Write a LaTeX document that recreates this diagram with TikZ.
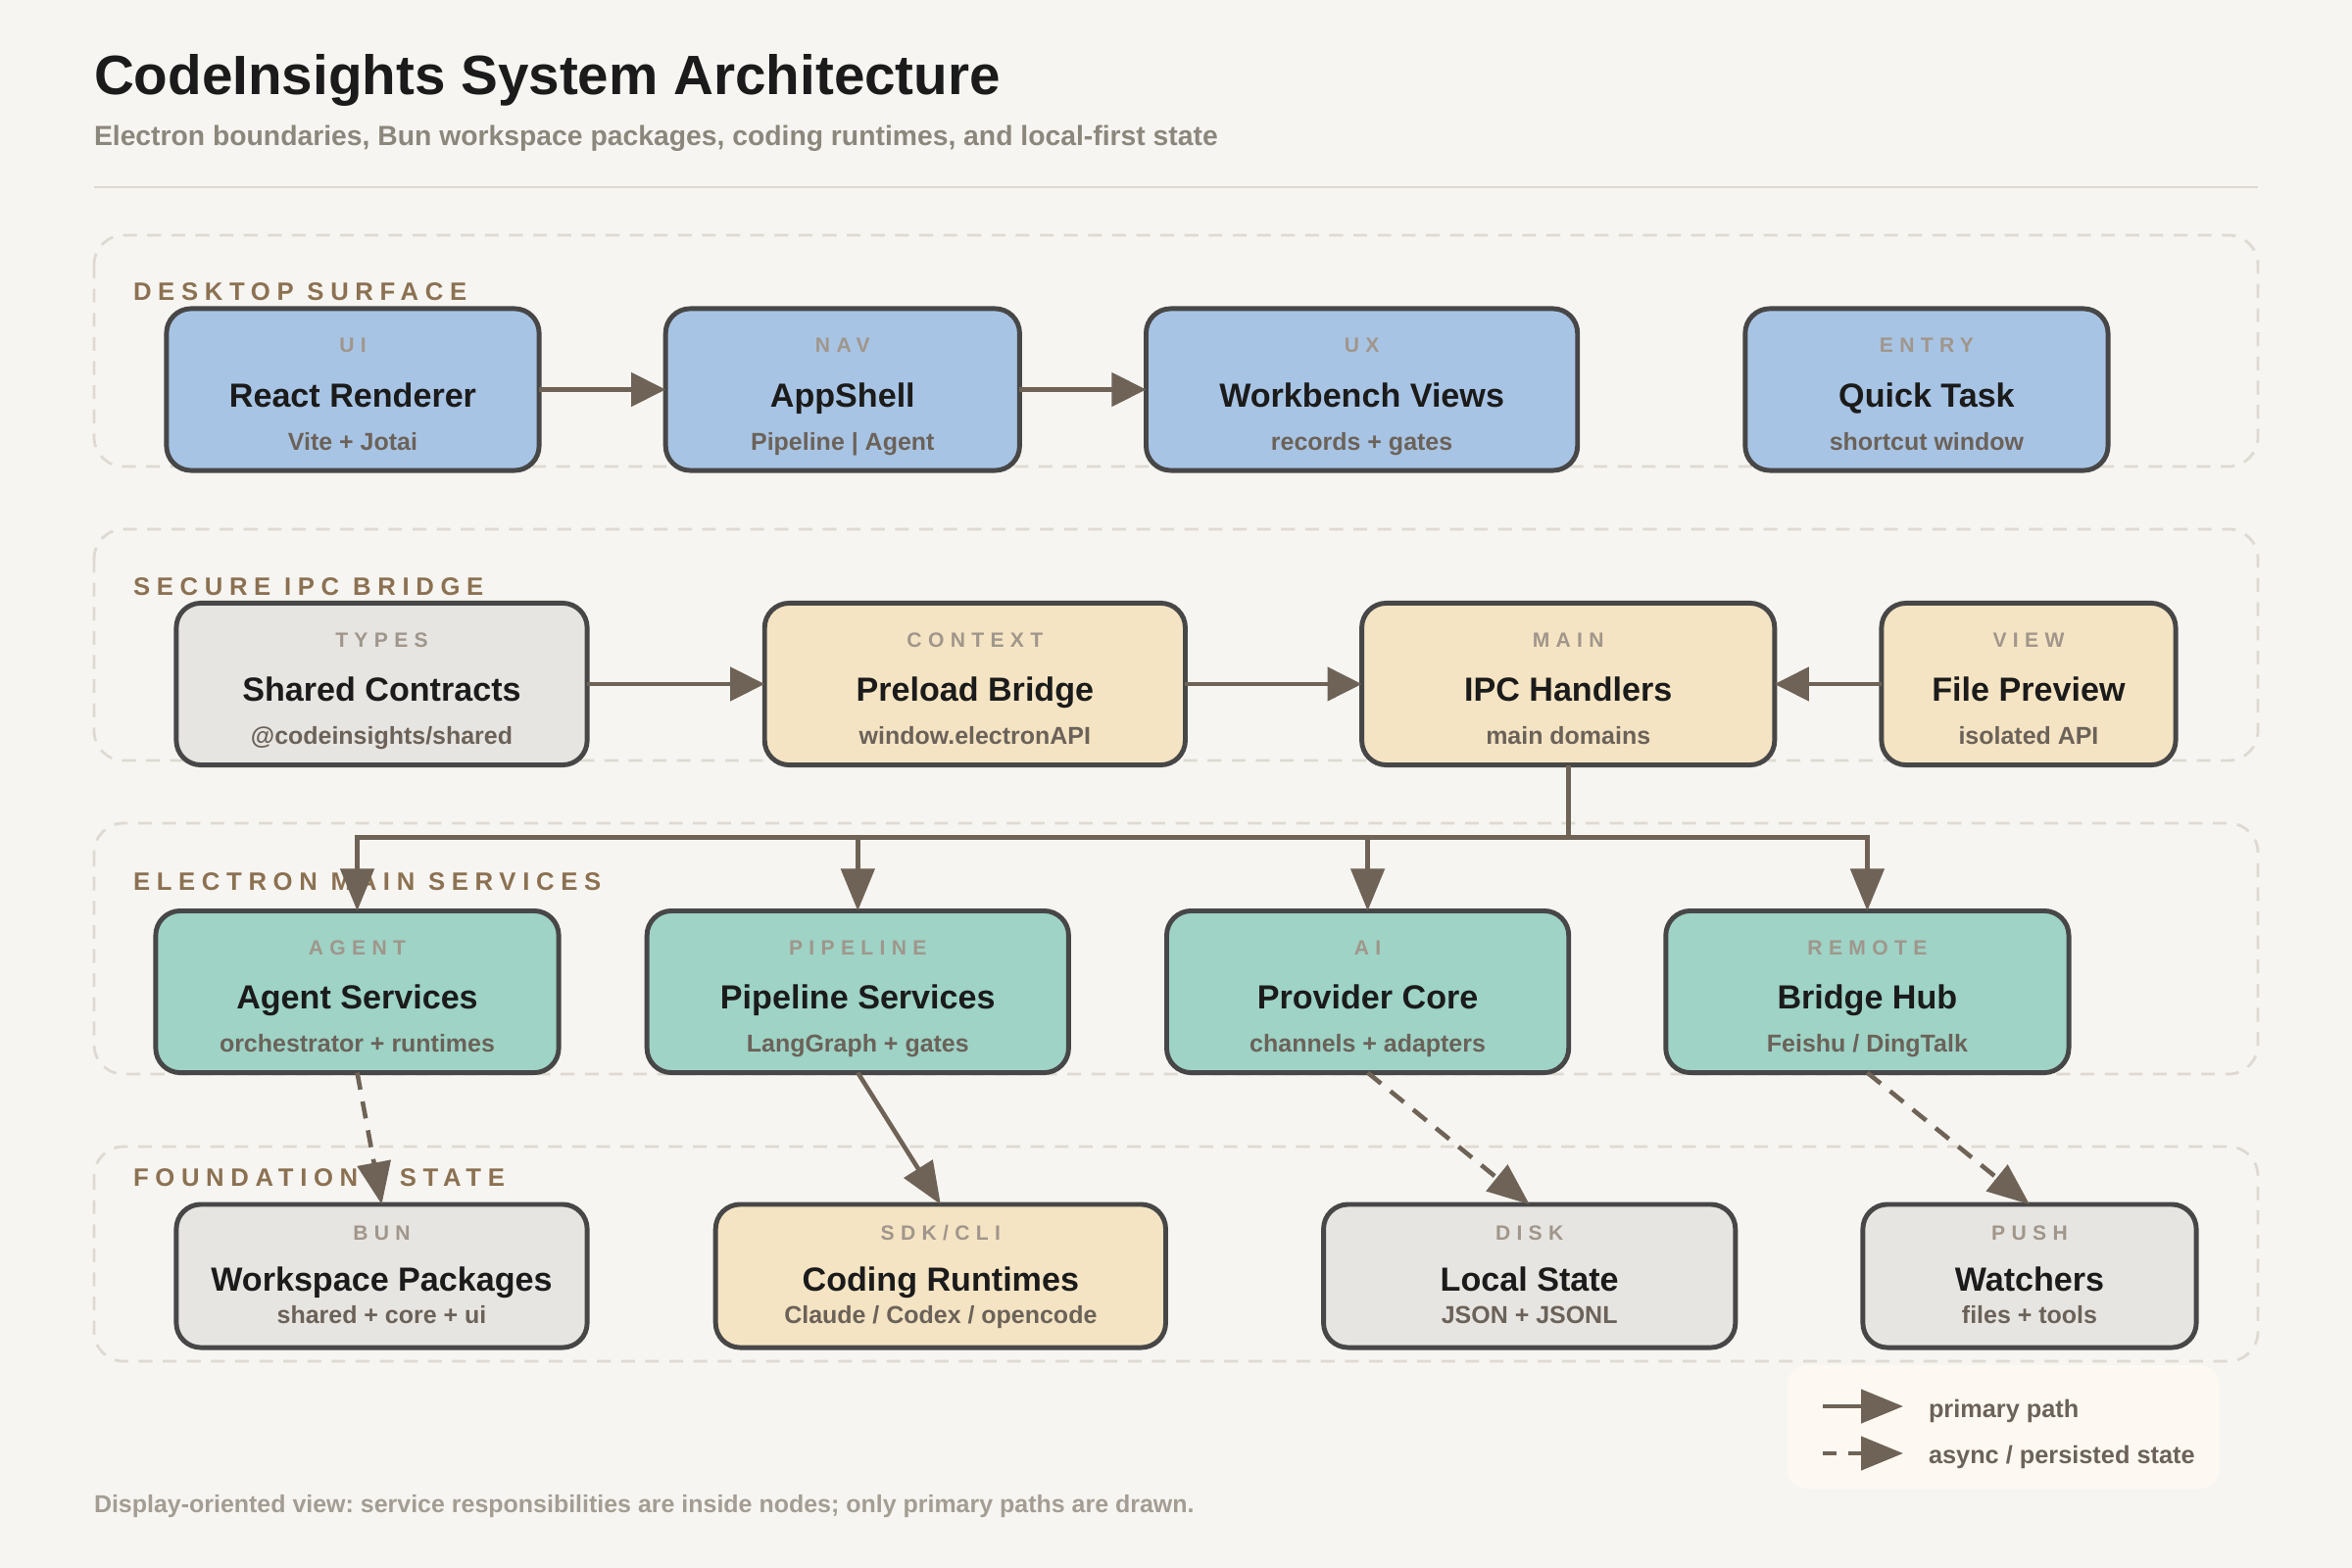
\documentclass[tikz,border=0pt]{standalone}
\usepackage{fontspec}
\setmainfont{Liberation Sans}
\usepackage{xcolor}
\definecolor{pagecol}{HTML}{F7F5F1}
\definecolor{rulecol}{HTML}{DDD9D1}
\definecolor{groupcol}{HTML}{DEDAD2}
\definecolor{grouptext}{HTML}{8B7152}
\definecolor{edgecol}{HTML}{474747}
\definecolor{linkcol}{HTML}{6E6356}
\definecolor{bluecol}{HTML}{A8C4E4}
\definecolor{creamcol}{HTML}{F5E4C3}
\definecolor{graycol}{HTML}{E7E5E1}
\definecolor{tealcol}{HTML}{9ED3C6}
\definecolor{tagcol}{HTML}{A0968B}
\definecolor{subcol}{HTML}{6B6259}
\definecolor{titlecol}{HTML}{1B1B1B}
\definecolor{mutedcol}{HTML}{8C877D}
\definecolor{footcol}{HTML}{A39D93}
\definecolor{legendcol}{HTML}{FDF9F2}
\usepackage{tikz}
\usetikzlibrary{arrows.meta, positioning}
\frenchspacing

\begin{document}
\begin{tikzpicture}[
    x=0.01cm, y=-0.01cm,
    every node/.style={inner sep=0pt, outer sep=0pt},
    card/.style={rectangle, rounded corners=0.25cm, draw=edgecol, line width=1.4pt, minimum height=1.65cm},
    bluefill/.style={fill=bluecol},
    creamfill/.style={fill=creamcol},
    grayfill/.style={fill=graycol},
    tealfill/.style={fill=tealcol},
    tagtext/.style={anchor=base, text=tagcol, font=\bfseries\fontsize{6}{7}\selectfont\addfontfeature{LetterSpace=30}},
    ttltext/.style={anchor=base, text=titlecol, font=\bfseries\fontsize{9.7}{11}\selectfont},
    subtext/.style={anchor=base, text=subcol, font=\bfseries\fontsize{7.1}{8}\selectfont},
    tag/.style={label={[tagtext, yshift=-0.45cm]north:#1}},
    ttl/.style={label={[ttltext, yshift=-1cm]north:#1}},
    sub/.style={label={[subtext, yshift=-1.44cm]north:#1}},
    group/.style={draw=groupcol, line width=0.8pt, dash pattern=on 4pt off 3pt, rounded corners=0.3cm},
    grouplabel/.style={anchor=base west, text=grouptext, font=\bfseries\fontsize{7.3}{8}\selectfont\addfontfeature{LetterSpace=26}},
    link/.style={draw=linkcol, line width=1.3pt},
    arrow/.style={link, -{Triangle[length=4.3mm, width=3.4mm]}},
    flat/.style={link, -{Triangle[length=3.5mm, width=3.4mm]}},
    async/.style={arrow, dash pattern=on 5pt off 3.5pt},
    legendtext/.style={anchor=base west, text=subcol, font=\bfseries\fontsize{7.2}{8}\selectfont}
]
\fill[pagecol] (0,0) rectangle (2400,1600);
\useasboundingbox (0,0) rectangle (2400,1600);

% Header
\node[anchor=base west, text=titlecol, font=\bfseries\fontsize{16.1}{19}\selectfont] (title) at (96,97) {CodeInsights System Architecture};
\node[anchor=base west, text=mutedcol, font=\bfseries\fontsize{8.05}{9}\selectfont] (subtitle) at (96,149) {Electron boundaries, Bun workspace packages, coding runtimes, and local-first state};
\draw[rulecol, line width=0.8pt] (96,191) -- (2304,191);

% Groups
\draw[group] (96,240) rectangle (2304,476);
\draw[group] (96,540) rectangle (2304,776);
\draw[group] (96,840) rectangle (2304,1096);
\draw[group] (96,1170) rectangle (2304,1389);
\node[grouplabel] (gdesktop) at (136,307) {DESKTOP SURFACE};
\node[grouplabel] (gipc) at (136,607) {SECURE IPC BRIDGE};
\node[grouplabel] (gmain) at (136,908) {ELECTRON MAIN SERVICES};
\node[grouplabel] (gfound) at (136,1210) {FOUNDATION + STATE};

% Nodes
\node[card, bluefill, minimum width=3.8cm, tag=UI, ttl=React Renderer, sub=Vite + Jotai] (react) at (360,397.5) {};
\node[card, bluefill, minimum width=3.61cm, right=1.29cm of react, tag=NAV, ttl=AppShell, sub=Pipeline | Agent] (appshell) {};
\node[card, bluefill, minimum width=4.4cm, right=1.29cm of appshell, tag=UX, ttl=Workbench Views, sub=records + gates] (workbench) {};
\node[card, bluefill, minimum width=3.7cm, right=1.71cm of workbench, tag=ENTRY, ttl=Quick Task, sub=shortcut window] (quicktask) {};

\node[card, grayfill, minimum width=4.19cm, tag=TYPES, ttl=Shared Contracts, sub=@codeinsights/shared] (shared) at (389.5,698) {};
\node[card, creamfill, minimum width=4.29cm, right=1.81cm of shared, tag=CONTEXT, ttl=Preload Bridge, sub=window.electronAPI] (preload) {};
\node[card, creamfill, minimum width=4.21cm, right=1.8cm of preload, tag=MAIN, ttl=IPC Handlers, sub=main domains] (ipc) {};
\node[card, creamfill, minimum width=3cm, right=1.09cm of ipc, tag=VIEW, ttl=File Preview, sub=isolated API] (preview) {};

\node[card, tealfill, minimum width=4.11cm, tag=AGENT, ttl=Agent Services, sub=orchestrator + runtimes] (agent) at (364.5,1012) {};
\node[card, tealfill, minimum width=4.3cm, right=0.9cm of agent, tag=PIPELINE, ttl=Pipeline Services, sub=LangGraph + gates] (pipeline) {};
\node[card, tealfill, minimum width=4.1cm, right=1cm of pipeline, tag=AI, ttl=Provider Core, sub=channels + adapters] (provider) {};
\node[card, tealfill, minimum width=4.11cm, right=0.99cm of provider, tag=REMOTE, ttl=Bridge Hub, sub=Feishu / DingTalk] (bridgehub) {};

\begin{scope}[card/.append style={minimum height=1.46cm},
    tag/.style={label={[tagtext, yshift=-0.37cm]north:#1}},
    ttl/.style={label={[ttltext, yshift=-0.88cm]north:#1}},
    sub/.style={label={[subtext, yshift=-1.21cm]north:#1}}]
\node[card, grayfill, minimum width=4.19cm, tag=BUN, ttl=Workspace Packages, sub=shared + core + ui] (workspace) at (389.5,1302) {};
\node[card, creamfill, minimum width=4.59cm, right=1.31cm of workspace, tag=SDK/CLI, ttl=Coding Runtimes, sub=Claude / Codex / opencode] (runtimes) {};
\node[card, grayfill, minimum width=4.2cm, right=1.61cm of runtimes, tag=DISK, ttl=Local State, sub=JSON + JSONL] (localstate) {};
\node[card, grayfill, minimum width=3.4cm, right=1.3cm of localstate, tag=PUSH, ttl=Watchers, sub=files + tools] (watchers) {};
\end{scope}

% Connections
\draw[flat] (react) -- (appshell);
\draw[flat] (appshell) -- (workbench);
\draw[flat] (shared) -- (preload);
\draw[flat] (preload) -- (ipc);
\draw[flat] (preview) -- (ipc);

\coordinate (fork) at ([yshift=-0.74cm]ipc.south);
\draw[link] (ipc.south) -- (fork);
\draw[arrow] (fork) -| (agent.north);
\draw[arrow] (fork) -| (pipeline.north);
\draw[arrow] (fork) -| (provider.north);
\draw[arrow] (fork) -| (bridgehub.north);

\draw[async] (agent.south) -- (workspace.north);
\draw[arrow] (pipeline.south) -- (runtimes.north);
\draw[async] (provider.south) -- (localstate.north);
\draw[async] (bridgehub.south) -- (watchers.north);

% Legend
\node[fill=legendcol, rounded corners=0.2cm, minimum width=4.4cm, minimum height=1.26cm] (legend) at (2044,1456) {};
\coordinate (solidA) at (1860,1435);
\coordinate (solidB) at (1942,1435);
\coordinate (dashA) at (1860,1483);
\coordinate (dashB) at (1942,1483);
\draw[arrow] (solidA) -- (solidB);
\draw[arrow, dash pattern=on 4pt off 3.4pt] (dashA) -- (dashB);
\node[legendtext] (primary) at (1968,1446) {primary path};
\node[legendtext] (asyncstate) at (1968,1493) {async / persisted state};

% Footer
\node[anchor=base west, text=footcol, font=\bfseries\fontsize{7.1}{8}\selectfont] (footer) at (96,1543) {Display-oriented view: service responsibilities are inside nodes; only primary paths are drawn.};

\end{tikzpicture}
\end{document}
